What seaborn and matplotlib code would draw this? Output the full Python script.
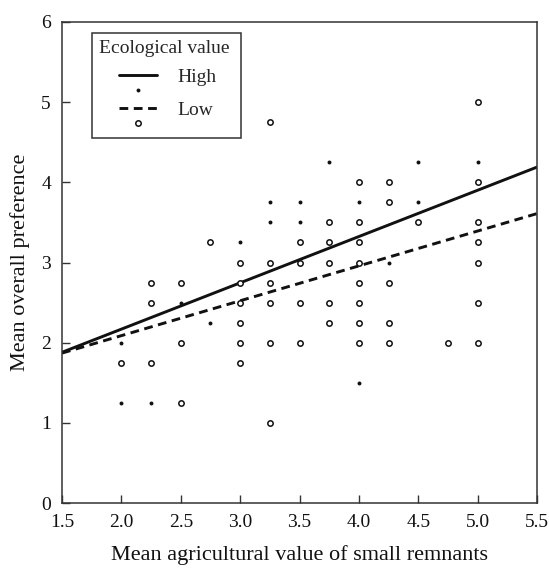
import numpy as np
import pandas as pd
import matplotlib
matplotlib.use("Agg")
import matplotlib.pyplot as plt
import seaborn as sns
from matplotlib.lines import Line2D
from matplotlib.patches import Rectangle
from matplotlib.legend_handler import HandlerBase

# ---------------- data ----------------
high_x = [2.0, 2.0, 2.25, 2.5, 2.75, 3.0, 3.25, 3.25, 3.5, 3.5, 3.75, 4.0, 4.0, 4.25, 4.5, 4.5, 5.0]
high_y = [2.0, 1.25, 1.25, 2.5, 2.25, 3.25, 3.75, 3.5, 3.75, 3.5, 4.25, 3.75, 1.5, 3.0, 4.25, 3.75, 4.25]

low_x = [2.0, 2.25, 2.25, 2.25, 2.5, 2.5, 2.5, 2.75,
         3.0, 3.0, 3.0, 3.0, 3.0, 3.0,
         3.25, 3.25, 3.25, 3.25, 3.25, 3.25,
         3.5, 3.5, 3.5, 3.5,
         3.75, 3.75, 3.75, 3.75, 3.75,
         4.0, 4.0, 4.0, 4.0, 4.0, 4.0, 4.0, 4.0,
         4.25, 4.25, 4.25, 4.25, 4.25,
         4.5, 4.75,
         5.0, 5.0, 5.0, 5.0, 5.0, 5.0, 5.0]
low_y = [1.75, 2.75, 2.5, 1.75, 2.75, 2.0, 1.25, 3.25,
         3.0, 2.75, 2.5, 2.25, 2.0, 1.75,
         4.75, 3.0, 2.75, 2.5, 2.0, 1.0,
         3.25, 3.0, 2.5, 2.0,
         3.5, 3.25, 3.0, 2.5, 2.25,
         4.0, 3.5, 3.25, 3.0, 2.75, 2.5, 2.25, 2.0,
         4.0, 3.75, 2.75, 2.25, 2.0,
         3.5, 2.0,
         5.0, 4.0, 3.5, 3.25, 3.0, 2.5, 2.0]

fit_x = [1.5, 5.5]
high_fit_y = [1.88, 4.19]
low_fit_y = [1.87, 3.61]

x_ticks = [1.5, 2.0, 2.5, 3.0, 3.5, 4.0, 4.5, 5.0, 5.5]
x_ticklabels = ["1.5", "2.0", "2.5", "3.0", "3.5", "4.0", "4.5", "5.0", "5.5"]
y_ticks = [0, 1, 2, 3, 4, 5, 6]
y_ticklabels = ["0", "1", "2", "3", "4", "5", "6"]

legend_title = "Ecological value"
legend_labels = ["High", "Low"]
x_label = "Mean agricultural value of small remnants"
y_label = "Mean overall preference"

# ---------------- style ----------------
sns.set_theme(style="ticks")
plt.rcParams['font.family'] = ['Liberation Serif', 'DejaVu Serif']

DASH = (0, (3.0, 1.9))

fig = plt.figure(figsize=(5.49, 5.71), dpi=100)
ax = fig.add_axes([62 / 549, 1 - 503 / 571, 475 / 549, 481 / 571])

high_df = pd.DataFrame({"x": high_x, "y": high_y})
low_df = pd.DataFrame({"x": low_x, "y": low_y})

sns.lineplot(x=fit_x, y=high_fit_y, color="#111111", linewidth=2.1, ax=ax)
sns.lineplot(x=fit_x, y=low_fit_y, color="#111111", linewidth=2.1,
             linestyle=DASH, ax=ax)

sns.scatterplot(data=low_df, x="x", y="y", marker="o", s=15,
                facecolor="white", edgecolor="#111111", linewidth=1.1, ax=ax, zorder=3)
sns.scatterplot(data=high_df, x="x", y="y", marker="o", s=8,
                color="#111111", edgecolor="#111111", linewidth=0, ax=ax, zorder=3)

ax.set_xlim(1.5, 5.5)
ax.set_ylim(0, 6)
ax.set_xticks(x_ticks)
ax.set_xticklabels(x_ticklabels)
ax.set_yticks(y_ticks)
ax.set_yticklabels(y_ticklabels)
ax.tick_params(direction="in", length=6, width=1, colors="#333333",
               labelcolor="#111111", labelsize=14)
ax.tick_params(axis="x", pad=8)
ax.tick_params(axis="y", pad=8)
for sp in ax.spines.values():
    sp.set_visible(True)
    sp.set_linewidth(1.1)
    sp.set_color("#333333")

ax.set_xlabel(x_label, fontsize=16, color="#111111", labelpad=10)
ax.set_ylabel(y_label, fontsize=16, color="#111111", labelpad=8)


# ---------------- legend ----------------
class LegendKey:
    def __init__(self, linestyle, filled):
        self.linestyle = linestyle
        self.filled = filled


class LineOverMarker(HandlerBase):
    def create_artists(self, legend, orig_handle, xdescent, ydescent,
                       width, height, fontsize, trans):
        x0 = -xdescent + 0.345 * width
        x1 = -xdescent + width
        yl = 0.33 * fontsize
        line = Line2D([x0, x1], [yl, yl], color="#111111", linewidth=2.1,
                      linestyle=orig_handle.linestyle, transform=trans)
        xm = (x0 + x1) / 2
        ym = -0.44 * fontsize
        if orig_handle.filled:
            mk = Line2D([xm], [ym], marker="o", markersize=2.8, color="#111111",
                        markeredgewidth=0, linestyle="none", transform=trans)
        else:
            mk = Line2D([xm], [ym], marker="o", markersize=3.9, markerfacecolor="white",
                        markeredgecolor="#111111", markeredgewidth=1.1,
                        linestyle="none", transform=trans)
        return [line, mk]


# legend frame box
box_x0 = (92 - 62) / 475
box_x1 = (241 - 62) / 475
box_y1 = (503 - 33) / 481
box_y0 = (503 - 138) / 481
ax.add_patch(Rectangle((box_x0, box_y0), box_x1 - box_x0, box_y1 - box_y0,
                       transform=ax.transAxes, facecolor="white",
                       edgecolor="#333333", linewidth=1.1, zorder=4))

keys = [LegendKey("-", True), LegendKey(DASH, False)]
leg = ax.legend(keys, legend_labels, handler_map={LegendKey: LineOverMarker()},
                title=legend_title, loc="upper left",
                bbox_to_anchor=(box_x0, box_y1),
                borderaxespad=0, fontsize=14, title_fontsize=14,
                handlelength=2.98, handleheight=1.9, handletextpad=1.05,
                labelspacing=0.2, borderpad=0.38, frameon=False,
                alignment="left")
leg.set_zorder(5)

fig.savefig("out.png", dpi=100)
